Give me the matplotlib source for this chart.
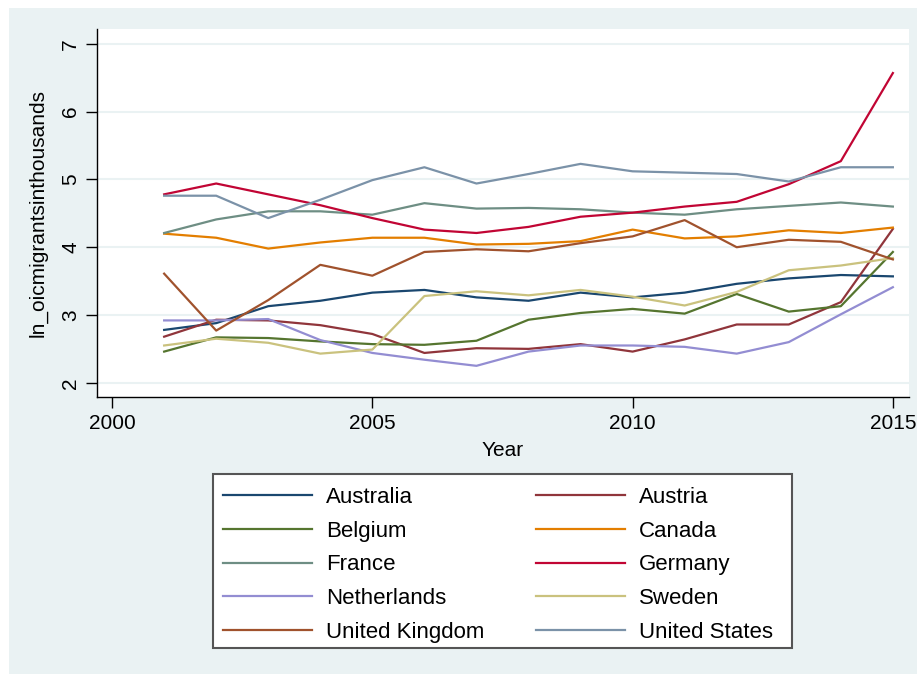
import numpy as np
import matplotlib
matplotlib.use("Agg")
import matplotlib.pyplot as plt
from matplotlib.patches import Rectangle

plt.rcParams['font.family'] = ['Liberation Sans', 'DejaVu Sans']

years = list(range(2001, 2016))

australia = [2.78, 2.88, 3.13, 3.21, 3.33, 3.37, 3.26, 3.21, 3.33, 3.26, 3.33, 3.46, 3.54, 3.59, 3.57]
austria = [2.68, 2.93, 2.92, 2.85, 2.72, 2.44, 2.51, 2.50, 2.57, 2.46, 2.64, 2.86, 2.86, 3.19, 4.27]
belgium = [2.46, 2.67, 2.66, 2.61, 2.57, 2.56, 2.62, 2.93, 3.03, 3.09, 3.02, 3.31, 3.05, 3.13, 3.93]
canada = [4.20, 4.14, 3.98, 4.07, 4.14, 4.14, 4.04, 4.05, 4.09, 4.26, 4.13, 4.16, 4.25, 4.21, 4.29]
france = [4.21, 4.41, 4.53, 4.53, 4.48, 4.65, 4.57, 4.58, 4.56, 4.51, 4.48, 4.56, 4.61, 4.66, 4.60]
germany = [4.78, 4.94, 4.78, 4.62, 4.43, 4.26, 4.21, 4.30, 4.45, 4.51, 4.60, 4.67, 4.93, 5.27, 6.57]
netherlands = [2.92, 2.92, 2.94, 2.63, 2.44, 2.34, 2.25, 2.46, 2.55, 2.55, 2.53, 2.43, 2.60, 3.01, 3.41]
sweden = [2.55, 2.65, 2.59, 2.43, 2.49, 3.28, 3.35, 3.29, 3.37, 3.27, 3.14, 3.34, 3.66, 3.73, 3.84]
uk = [3.61, 2.77, 3.22, 3.74, 3.58, 3.93, 3.97, 3.94, 4.06, 4.16, 4.40, 4.00, 4.11, 4.08, 3.82]
usa = [4.76, 4.76, 4.43, 4.70, 4.99, 5.18, 4.94, 5.08, 5.23, 5.12, 5.10, 5.08, 4.97, 5.18, 5.18]

series = [
    ("Australia", australia, "#1a476f"),
    ("Austria", austria, "#90353b"),
    ("Belgium", belgium, "#55752f"),
    ("Canada", canada, "#e37e00"),
    ("France", france, "#6e8e84"),
    ("Germany", germany, "#c10534"),
    ("Netherlands", netherlands, "#938dd2"),
    ("Sweden", sweden, "#cac27e"),
    ("United Kingdom", uk, "#a0522d"),
    ("United States", usa, "#7b92a8"),
]

bg = "#eaf2f3"
W, H = 917, 675
fig = plt.figure(figsize=(W / 100, H / 100), dpi=100, facecolor="white")
# stata-style outer background
fig.patches.append(Rectangle((9 / W, 1 - 674 / H), (W - 9) / W, (674 - 8) / H,
                             transform=fig.transFigure, facecolor=bg,
                             edgecolor="none", zorder=-5))

ax = fig.add_axes([97 / W, 1 - 397 / H, (909 - 97) / W, (397 - 29) / H])
ax.set_facecolor("white")

lines = {}
for name, vals, col in series:
    lines[name], = ax.plot(years, vals, color=col, lw=1.6, label=name)

ax.set_xlim(1999.71, 2015.31)
ax.set_ylim(1.79, 7.22)
ax.set_xticks([2000, 2005, 2010, 2015])
ax.set_yticks([2, 3, 4, 5, 6, 7])
ax.yaxis.grid(True, color=bg, lw=1.5)
ax.set_axisbelow(True)
for s in ["top", "right"]:
    ax.spines[s].set_visible(False)
for s in ["left", "bottom"]:
    ax.spines[s].set_color("black")
    ax.spines[s].set_linewidth(1.0)
ax.tick_params(direction="out", length=8, width=1.0, labelsize=15, pad=4)
plt.setp(ax.get_yticklabels(), rotation=90, va="center")

ax.set_xlabel("Year", fontsize=15, labelpad=6)
ax.set_ylabel("ln_oicmigrantsinthousands", fontsize=15, labelpad=10)

# legend box drawn separately so its size is fixed
fig.patches.append(Rectangle((213 / W, 1 - 648 / H), (792 - 213) / W, (648 - 474) / H,
                             transform=fig.transFigure, facecolor="white",
                             edgecolor="#555555", lw=1.5, zorder=4))

# legend fills column-wise, so put left column first then right column
names = [s[0] for s in series]
order = names[0::2] + names[1::2]
leg = fig.legend([lines[n] for n in order], order,
                 loc="upper left", bbox_to_anchor=(213 / W, 1 - 477 / H),
                 ncol=2, fontsize=16, frameon=False,
                 handlelength=4.0, handletextpad=0.65, labelspacing=0.57,
                 columnspacing=2.3, borderpad=0.45, borderaxespad=0)
leg.set_zorder(6)

fig.savefig("out.png", dpi=100, facecolor="white")
